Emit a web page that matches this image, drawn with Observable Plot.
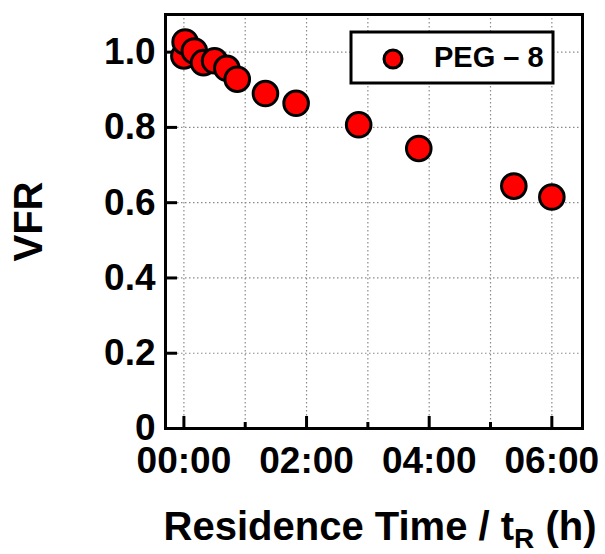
<!DOCTYPE html>
<html><head><meta charset="utf-8">
<script src="https://cdn.jsdelivr.net/npm/d3@7"></script>
<script src="https://cdn.jsdelivr.net/npm/@observablehq/plot@0.6"></script>
<style>body{margin:0;background:#fff;} #chart svg{display:block;}</style>
</head><body><div id="chart"></div>
<script>
// Residence time in hours, and volume fraction retained (VFR)
const timeHours = [0, 0.02, 0.17, 0.32, 0.5, 0.7, 0.87, 1.33, 1.83, 2.85, 3.83, 5.38, 6.0];
const vfr       = [0.99, 1.027, 1.003, 0.972, 0.977, 0.957, 0.928, 0.890, 0.864, 0.807, 0.744, 0.644, 0.615];
const seriesName = "PEG – 8";
const xMajorTicks = [0, 2, 4, 6];
const xMinorTicks = [1, 3, 5];
const xGridHours = [0, 1, 2, 3, 4, 5, 6];
const yTicks = [0, 0.2, 0.4, 0.6, 0.8, 1.0];
const xTitle = "Residence Time / t";
const xTitleSub = "R";
const xTitleEnd = " (h)";
const yTitle = "VFR";

const data = timeHours.map((t, i) => ({t, v: vfr[i]}));
const font = "'Liberation Sans', Arial, sans-serif";
const fmtTime = d => String(d).padStart(2, "0") + ":00";
const fmtY = d => d === 0 ? "0" : d.toFixed(1);
const noText = () => "";
const gridStyle = {stroke: "#8a8a8a", strokeOpacity: 1, strokeWidth: 1.2, strokeDasharray: "1.5,2.5"};

const plot = Plot.plot({
  width: 605, height: 554,
  marginLeft: 165, marginRight: 23, marginTop: 14, marginBottom: 126,
  style: {fontFamily: font, fontWeight: "bold", background: "white", color: "black"},
  x: {domain: [-0.3, 6.5], label: null},
  y: {domain: [0, 1.1], label: null},
  marks: [
    Plot.gridX(xGridHours, gridStyle),
    Plot.gridY(yTicks.slice(1), gridStyle),
    // inward ticks: positive length, shifted back inside the frame
    Plot.axisX(xMajorTicks, {tickSize: 12, dy: -12, strokeWidth: 3, stroke: "black", tickFormat: noText, label: null}),
    Plot.axisX(xMinorTicks, {tickSize: 6, dy: -6, strokeWidth: 3, stroke: "black", tickFormat: noText, label: null}),
    Plot.axisX(xMajorTicks, {tickSize: 0, tickPadding: 18, tickFormat: fmtTime, fontSize: 37, fill: "black", label: null}),
    Plot.axisY(yTicks, {tickSize: 12, dx: 12, strokeWidth: 3, stroke: "black", tickFormat: noText, label: null}),
    Plot.axisY(yTicks, {tickSize: 0, tickPadding: 10, tickFormat: fmtY, fontSize: 37, fill: "black", label: null}),
    Plot.dot(data, {x: "t", y: "v", r: 12.3, fill: "#ff0000", stroke: "black", strokeWidth: 3}),
    Plot.frame({stroke: "black", strokeWidth: 3})
  ]
});
document.getElementById("chart").appendChild(plot);

const svg = d3.select(plot);
// drop the empty label texts of the tick-only axes
svg.selectAll("text").filter(function() { return this.textContent === ""; }).remove();

// Legend
const lg = svg.append("g");
lg.append("rect").attr("x", 351).attr("y", 32).attr("width", 202).attr("height", 51)
  .attr("fill", "white").attr("stroke", "black").attr("stroke-width", 3);
lg.append("circle").attr("cx", 393).attr("cy", 59).attr("r", 9)
  .attr("fill", "#ff0000").attr("stroke", "black").attr("stroke-width", 3);
lg.append("text").attr("x", 434).attr("y", 67).attr("text-anchor", "start")
  .attr("font-size", 29).attr("font-weight", "bold")
  .attr("font-family", font).attr("fill", "black").text(seriesName);

// X title
const xt = svg.append("text").attr("x", 380).attr("y", 540).attr("text-anchor", "middle")
  .attr("font-size", 40).attr("font-weight", "bold").attr("font-family", font).attr("fill", "black");
xt.append("tspan").text(xTitle);
xt.append("tspan").attr("font-size", 28).attr("dy", 8).text(xTitleSub);
xt.append("tspan").attr("dy", -8).text(xTitleEnd);

// Y title
svg.append("text").attr("transform", "translate(41.5,221.5) rotate(-90)").attr("text-anchor", "middle")
  .attr("font-size", 40).attr("font-weight", "bold").attr("font-family", font).attr("fill", "black")
  .text(yTitle);
</script>
</body></html>
